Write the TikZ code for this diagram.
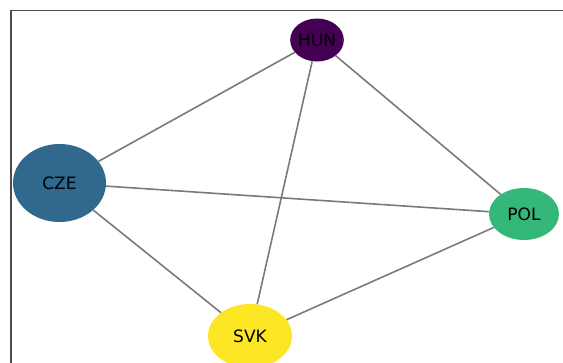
\documentclass[tikz,border=0pt]{standalone}
\usepackage{fontspec}
\setmainfont{DejaVu Sans}
\usetikzlibrary{shapes.geometric}
\definecolor{vHUN}{HTML}{440154}
\definecolor{vCZE}{HTML}{30688E}
\definecolor{vPOL}{HTML}{35B779}
\definecolor{vSVK}{HTML}{FDE725}
\definecolor{edgegray}{HTML}{7A7A7A}
\begin{document}
\begin{tikzpicture}[x=1pt,y=-1pt,
  country/.style={ellipse, inner sep=0pt, draw=none, font=\fontsize{17}{17}\selectfont, text=black},
  link/.style={draw=edgegray, line width=1.6pt}]
\useasboundingbox (0,0) rectangle (563,362);
\clip (0,0) rectangle (563,362);
\draw[black!70, line width=1.8pt] (11,363) -- (11,10.5) -- (564,10.5);
\node[country, fill=vHUN, minimum width=50pt, minimum height=43pt] (hun) at (317,40) {HUN};
\node[country, fill=vCZE, minimum width=93pt, minimum height=78pt] (cze) at (59.5,183) {CZE};
\node[country, fill=vPOL, minimum width=70pt, minimum height=52pt] (pol) at (524,214) {POL};
\node[country, fill=vSVK, minimum width=84pt, minimum height=64pt] (svk) at (250,336) {SVK};
\draw[link] (hun) -- (cze);
\draw[link] (hun) -- (svk);
\draw[link] (hun) -- (pol);
\draw[link] (cze) -- (pol);
\draw[link] (cze) -- (svk);
\draw[link] (svk) -- (pol);
\end{tikzpicture}
\end{document}
